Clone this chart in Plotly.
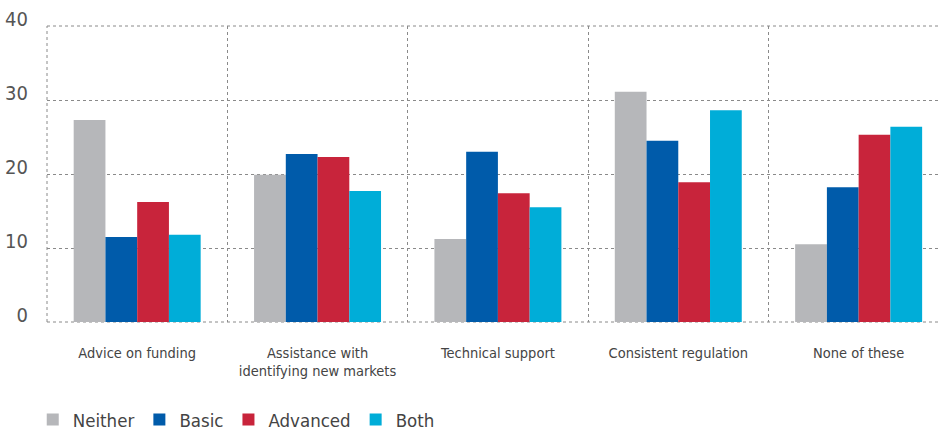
import plotly.graph_objects as go

categories = ["Advice on funding", "Assistance with<br>identifying new markets",
              "Technical support", "Consistent regulation", "None of these"]
series_names = ["Neither", "Basic", "Advanced", "Both"]
neither = [27.3, 19.9, 11.2, 31.1, 10.5]
basic = [11.5, 22.7, 23.0, 24.5, 18.2]
advanced = [16.2, 22.3, 17.4, 18.9, 25.3]
both = [11.8, 17.7, 15.5, 28.6, 26.4]
colors = ["#B6B7BA", "#005BAA", "#C8243B", "#00ADD8"]
y_ticks = [0, 10, 20, 30, 40]

FONT = "DejaVu Sans Condensed, Liberation Sans Narrow, sans-serif"
GRID = "#8a8a8a"

fig = go.Figure()
for name, vals, col in zip(series_names, [neither, basic, advanced, both], colors):
    fig.add_trace(go.Bar(x=categories, y=vals, name=name, marker=dict(color=col, line=dict(width=0))))

# dotted frame lines on the plot edges (left, top, bottom)
for x0, y0, x1, y1 in [(0, 0, 0, 1), (0, 1, 1, 1), (0, 0, 1, 0)]:
    fig.add_shape(type="line", xref="paper", yref="paper", x0=x0, y0=y0, x1=x1, y1=y1,
                  line=dict(color=GRID, width=1, dash="dot"), layer="below")

fig.update_layout(
    width=938, height=432,
    margin=dict(l=47, r=0, t=26, b=110, autoexpand=False),
    paper_bgcolor="white", plot_bgcolor="white",
    barmode="group", bargap=0.296, bargroupgap=0,
    font=dict(family=FONT, color="#444444"),
    showlegend=True,
    legend=dict(orientation="h", x=-0.016, xanchor="left", y=-0.331, yanchor="middle",
                font=dict(size=18.5, color="#444444", family=FONT),
                itemwidth=30, traceorder="normal"),
)
fig.update_xaxes(
    type="category", range=[-0.5, 4.44], tickson="boundaries",
    showgrid=True, gridcolor=GRID, griddash="dot", gridwidth=1,
    ticks="", showline=False, zeroline=False, tickangle=0, automargin=False,
    ticklabelstandoff=20,
    tickfont=dict(size=14.5, color="#444444", family=FONT),
)
fig.update_yaxes(
    range=[0, 40], tickvals=y_ticks, ticktext=[str(v) for v in y_ticks],
    showgrid=True, gridcolor=GRID, griddash="dot", gridwidth=1,
    zeroline=False, showline=False, ticks="", automargin=False,
    ticklabelshift=-7, ticklabelstandoff=18,
    tickfont=dict(size=20, color="#555555", family=FONT),
)
fig.write_html("out.html", config={"displayModeBar": False},
               post_script="document.body.style.margin='0px';")
